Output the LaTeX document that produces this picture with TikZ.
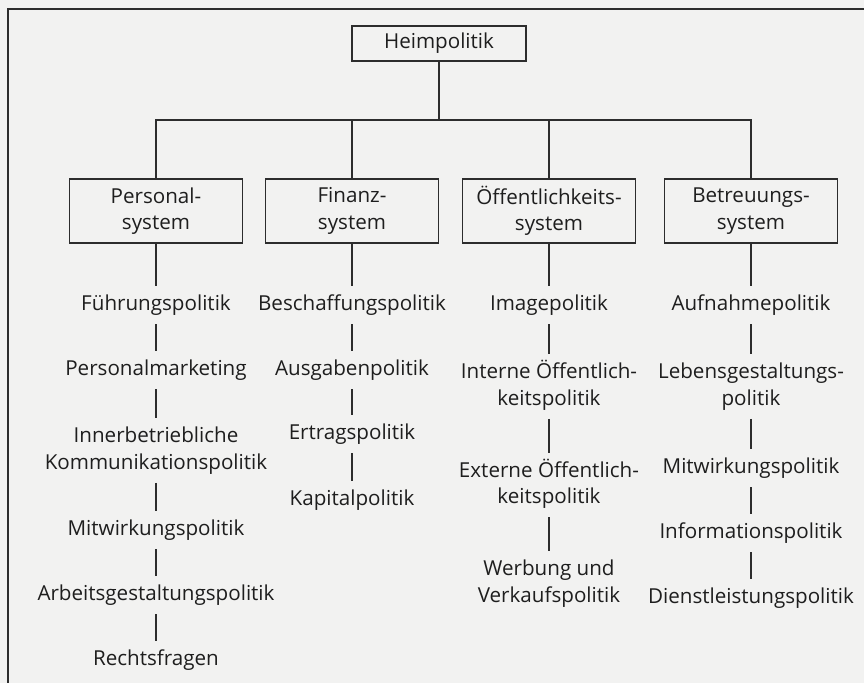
\documentclass[tikz,border=0pt]{standalone}
\usepackage{fontspec}
\setmainfont{Open Sans}
\definecolor{bgcol}{RGB}{242,242,241}
\definecolor{inkcol}{RGB}{30,30,30}
\definecolor{linecol}{RGB}{45,45,45}
\tikzset{
  sysbox/.style={draw=linecol, line width=1.1pt, minimum width=173pt, minimum height=64pt, align=center, inner sep=0pt, text=inkcol},
  topbox/.style={draw=linecol, line width=1.1pt, minimum width=174pt, minimum height=35pt, inner sep=0pt, text=inkcol},
  item/.style={align=center, inner sep=0pt, outer ysep=9.25pt, text height=15pt, text depth=4.5pt, text=inkcol},
  itemtwo/.style={item, text height=41.5pt},
  conn/.style={draw=linecol, line width=1.1pt},
}
\begin{document}
\begin{tikzpicture}[x=1pt,y=-1pt, font=\fontsize{20.6}{26.5}\selectfont]
\fill[bgcol] (0,0) rectangle (864,683);
\useasboundingbox (0,0) rectangle (864,683);
% frame
\coordinate (ftr) at (864,9);
\coordinate (ftl) at (8,9);
\coordinate (fbl) at (8,683);
\draw[conn] (ftr) -- (ftl) -- (fbl);
% top
\node[topbox] (heim) at (439,43.5) {Heimpolitik};
\coordinate (bus) at (0,120);
% systems
\node[sysbox] (pers) at (156,211) {Personal-\\system};
\node[sysbox] (fin) at (352,211) {Finanz-\\system};
\node[sysbox] (oef) at (549,211) {Öffentlichkeits-\\system};
\node[sysbox] (betr) at (751,211) {Betreuungs-\\system};
\draw[conn] (heim.south) -- (heim.south |- bus);
\draw[conn] (pers.north) -- (pers.north |- bus) -- (betr.north |- bus) -- (betr.north);
\draw[conn] (fin.north) -- (fin.north |- bus);
\draw[conn] (oef.north) -- (oef.north |- bus);
% Personal column
\node[item] (p1) at (156,305) {Führungspolitik};
\node[item] (p2) at (156,370) {Personalmarketing};
\node[itemtwo] (p3) at (156,450.5) {Innerbetriebliche\\Kommunikationspolitik};
\node[item] (p4) at (156,530) {Mitwirkungspolitik};
\node[item] (p5) at (156,595) {Arbeitsgestaltungspolitik};
\node[item] (p6) at (156,660) {Rechtsfragen};
\draw[conn] (pers.south) -- (p1.north);
\draw[conn] (p1.south) -- (p2.north);
\draw[conn] (p2.south) -- (p3.north);
\draw[conn] (p3.south) -- (p4.north);
\draw[conn] (p4.south) -- (p5.north);
\draw[conn] (p5.south) -- (p6.north);
% Finanz column
\node[item] (f1) at (352,305) {Beschaffungspolitik};
\node[item] (f2) at (352,370) {Ausgabenpolitik};
\node[item] (f3) at (352,434) {Ertragspolitik};
\node[item] (f4) at (352,500) {Kapitalpolitik};
\draw[conn] (fin.south) -- (f1.north);
\draw[conn] (f1.south) -- (f2.north);
\draw[conn] (f2.south) -- (f3.north);
\draw[conn] (f3.south) -- (f4.north);
% Oeffentlichkeit column
\node[item] (o1) at (549,305) {Imagepolitik};
\node[itemtwo] (o2) at (549,386.5) {Interne Öffentlich-\\keitspolitik};
\node[itemtwo] (o3) at (549,485) {Externe Öffentlich-\\keitspolitik};
\node[itemtwo] (o4) at (549,583.5) {Werbung und\\Verkaufspolitik};
\draw[conn] (oef.south) -- (o1.north);
\draw[conn] (o1.south) -- (o2.north);
\draw[conn] (o2.south) -- (o3.north);
\draw[conn] (o3.south) -- (o4.north);
% Betreuung column
\node[item] (b1) at (751,305) {Aufnahmepolitik};
\node[itemtwo] (b2) at (751,386.5) {Lebensgestaltungs-\\politik};
\node[item] (b3) at (751,468) {Mitwirkungspolitik};
\node[item] (b4) at (751,533) {Informationspolitik};
\node[item] (b5) at (751,598) {Dienstleistungspolitik};
\draw[conn] (betr.south) -- (b1.north);
\draw[conn] (b1.south) -- (b2.north);
\draw[conn] (b2.south) -- (b3.north);
\draw[conn] (b3.south) -- (b4.north);
\draw[conn] (b4.south) -- (b5.north);
\end{tikzpicture}
\end{document}
